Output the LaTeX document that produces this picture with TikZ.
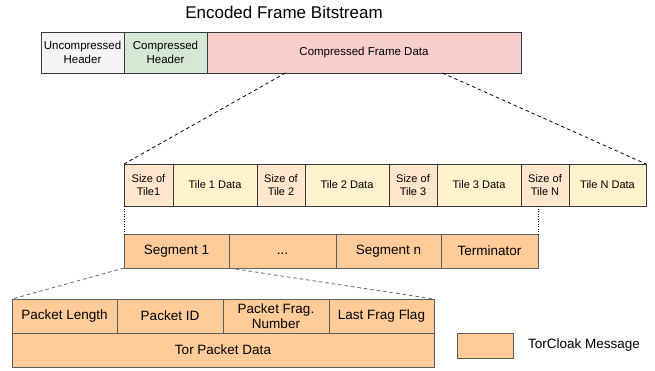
\documentclass[tikz,border=0pt]{standalone}
\usepackage{fontspec}
\setmainfont{Liberation Sans}
\usetikzlibrary{calc}
\definecolor{bordA}{HTML}{36393D}
\definecolor{bordB}{HTML}{5E5E5E}
\definecolor{hdrgray}{HTML}{F5F5F5}
\definecolor{hdrgreen}{HTML}{D5E8D4}
\definecolor{framered}{HTML}{F8CECC}
\definecolor{sizepeach}{HTML}{FFE6CC}
\definecolor{tileyel}{HTML}{FFF2CC}
\definecolor{msgorange}{HTML}{FFCC99}
\definecolor{dashgray}{HTML}{666666}
\tikzset{
  cell/.style={draw=bordA, line width=0.8pt, inner sep=0pt, outer sep=0pt,
    anchor=north west, align=center},
  topcell/.style={cell, minimum height=41pt, font=\fontsize{11.5}{13.5}\selectfont},
  tilecell/.style={cell, minimum height=42pt, font=\fontsize{11}{12.5}\selectfont},
  msgcell/.style={cell, draw=bordB, fill=msgorange, minimum height=34pt,
    font=\fontsize{13.5}{15}\selectfont},
  zoomline/.style={dash pattern=on 3.5pt off 3pt, line width=0.8pt},
  guideline/.style={dash pattern=on 1pt off 1.5pt, line width=0.5pt},
}
\begin{document}
\begin{tikzpicture}[x=1pt, y=-1pt]
  \useasboundingbox (0,0) rectangle (655,370);

  % title
  \node[font=\fontsize{17}{20}\selectfont] (title) at (284,12) {Encoded Frame Bitstream};

  % frame bitstream
  \node[topcell, fill=hdrgray, minimum width=83pt]  (uh)  at (41,32)  {Uncompressed\\Header};
  \node[topcell, fill=hdrgreen, minimum width=83pt] (ch)  at (124,32) {Compressed\\Header};
  \node[topcell, fill=framered, minimum width=314pt] (cfd) at (207,32) {Compressed Frame Data};

  % tiles
  \node[tilecell, fill=sizepeach, minimum width=49pt] (s1) at (124,164) {Size of\\Tile1};
  \node[tilecell, fill=tileyel,   minimum width=84pt] (t1) at (173,164) {Tile 1 Data};
  \node[tilecell, fill=sizepeach, minimum width=48pt] (s2) at (257,164) {Size of\\Tile 2};
  \node[tilecell, fill=tileyel,   minimum width=84pt] (t2) at (305,164) {Tile 2 Data};
  \node[tilecell, fill=sizepeach, minimum width=48pt] (s3) at (389,164) {Size of\\Tile 3};
  \node[tilecell, fill=tileyel,   minimum width=84pt] (t3) at (437,164) {Tile 3 Data};
  \node[tilecell, fill=sizepeach, minimum width=48pt] (sN) at (521,164) {Size of\\Tile N};
  \node[tilecell, fill=tileyel,   minimum width=77pt] (tN) at (569,164) {Tile N Data};

  % segments
  \node[msgcell, minimum width=105pt] (seg1) at (124,234) {Segment 1};
  \node[msgcell, minimum width=107pt] (segd) at (229,234) {\vphantom{Sg}...};
  \node[msgcell, minimum width=105pt] (segn) at (336,234) {Segment n};
  \node[msgcell, minimum width=97pt]  (term) at (441,234) {Terminator};

  % segment layout
  \node[msgcell, minimum width=105pt] (pl)  at (12,299)  {Packet Length};
  \node[msgcell, minimum width=106pt] (pid) at (117,299) {Packet ID};
  \node[msgcell, minimum width=106pt] (pfn) at (223,299) {Packet Frag.\\Number};
  \node[msgcell, minimum width=105pt] (lff) at (329,299) {Last Frag Flag};
  \node[msgcell, minimum width=422pt] (tpd) at (12,333)  {Tor Packet Data};

  % legend
  \node[msgcell, minimum width=56pt, minimum height=25pt] (legbox) at (457,333) {};
  \node[anchor=west, inner sep=0pt, font=\fontsize{13.5}{15}\selectfont] (legtxt)
    at (528,345.5) {TorCloak Message};

  % zoom connectors
  \coordinate (cfdL) at ($(cfd.south west)!0.25!(cfd.south east)$);
  \coordinate (cfdR) at ($(cfd.south west)!0.75!(cfd.south east)$);
  \draw[zoomline] (cfdL) -- (s1.north west);
  \draw[zoomline] (cfdR) -- (tN.north east);

  \draw[guideline] (s1.south west) -- (seg1.north west);
  \coordinate (tileR) at (term.north east |- sN.south);
  \draw[guideline] (tileR) -- (term.north east);

  \draw[zoomline, draw=dashgray] (seg1.south west) -- (pl.north west);
  \draw[zoomline, draw=dashgray] (seg1.south east) -- (lff.north east);
\end{tikzpicture}
\end{document}
